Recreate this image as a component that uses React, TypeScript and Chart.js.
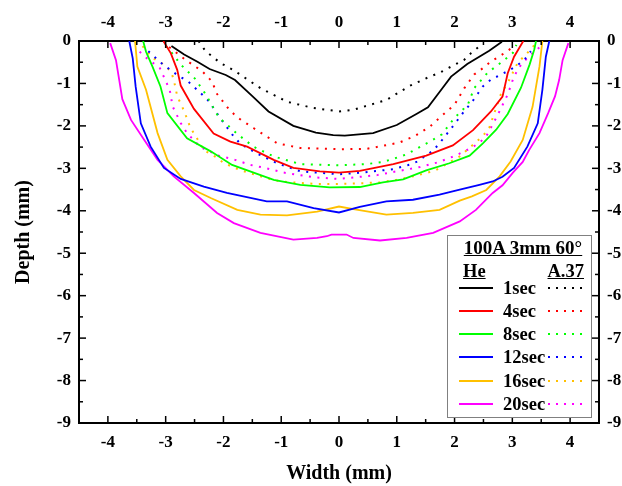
import { useEffect, useRef } from 'react';
import { Chart, registerables } from 'chart.js';

Chart.register(...registerables);

// ── Data: [width (mm), depth (mm)] ──────────────────────────────────
const he1sec = [[-2.9, -0.12], [-2.68, -0.32], [-2.45, -0.49], [-2.24, -0.66], [-1.96, -0.8], [-1.8, -0.92], [-1.5, -1.3], [-1.22, -1.66], [-0.79, -2.0], [-0.4, -2.16], [-0.1, -2.22], [0.1, -2.23], [0.59, -2.17], [1.0, -1.98], [1.34, -1.72], [1.54, -1.56], [1.74, -1.2], [1.94, -0.84], [2.22, -0.54], [2.6, -0.23], [2.82, -0.02]];
const a37_1sec = [[-2.43, 0], [-2.31, -0.24], [-2.05, -0.52], [-1.82, -0.69], [-1.36, -1.11], [-0.9, -1.43], [-0.44, -1.58], [0, -1.66], [0.25, -1.62], [0.82, -1.39], [1.22, -1.06], [1.57, -0.84], [1.74, -0.75], [2.0, -0.56], [2.17, -0.44], [2.29, -0.28], [2.49, -0.06]];

const he4sec = [[-3.04, 0], [-2.91, -0.29], [-2.8, -0.68], [-2.74, -1.05], [-2.51, -1.6], [-2.17, -2.18], [-1.88, -2.37], [-1.59, -2.49], [-1.13, -2.8], [-0.79, -2.99], [-0.33, -3.07], [0, -3.1], [0.36, -3.06], [0.94, -2.9], [1.51, -2.7], [1.97, -2.46], [2.32, -2.1], [2.63, -1.66], [2.83, -1.31], [2.92, -0.76], [3.03, -0.37], [3.19, 0]];
const a37_4sec = [[-2.94, -0.14], [-2.66, -0.44], [-2.37, -0.71], [-2.2, -0.95], [-2.11, -1.25], [-1.91, -1.6], [-1.76, -1.8], [-1.48, -2.05], [-1.07, -2.41], [-0.67, -2.52], [0, -2.55], [0.48, -2.54], [0.76, -2.47], [1.05, -2.39], [1.31, -2.24], [1.57, -2.02], [1.74, -1.81], [2.0, -1.5], [2.17, -1.11], [2.34, -0.79], [2.49, -0.64], [2.63, -0.48], [2.78, -0.36], [2.92, -0.23], [3.06, -0.1]];

const he8sec = [[-3.39, 0], [-3.34, -0.25], [-3.23, -0.6], [-3.09, -1.07], [-2.97, -1.7], [-2.63, -2.29], [-2.22, -2.6], [-1.85, -2.92], [-1.13, -3.27], [-0.67, -3.39], [-0.16, -3.45], [0.36, -3.44], [0.76, -3.33], [1.11, -3.26], [1.51, -3.05], [1.91, -2.88], [2.26, -2.7], [2.49, -2.41], [2.72, -2.09], [2.92, -1.72], [3.15, -1.1], [3.3, -0.55], [3.38, -0.2], [3.41, 0]];
const a37_8sec = [[-3.0, -0.12], [-2.86, -0.33], [-2.75, -0.54], [-2.49, -0.89], [-2.31, -1.25], [-2.08, -1.8], [-1.76, -2.19], [-1.48, -2.49], [-1.13, -2.72], [-0.67, -2.9], [0, -2.93], [0.48, -2.9], [0.76, -2.85], [1.02, -2.74], [1.17, -2.67], [1.45, -2.46], [1.6, -2.35], [1.78, -2.2], [2.0, -1.81], [2.23, -1.5], [2.34, -1.11], [2.57, -0.75], [2.83, -0.48], [3.01, -0.28], [3.07, -0.09]];

const he12sec = [[-3.63, 0], [-3.57, -0.41], [-3.52, -1.07], [-3.43, -1.94], [-3.26, -2.49], [-3.03, -2.99], [-2.74, -3.25], [-2.34, -3.43], [-1.94, -3.58], [-1.25, -3.78], [-0.9, -3.78], [-0.44, -3.94], [0, -4.04], [0.36, -3.91], [0.82, -3.78], [1.28, -3.74], [1.74, -3.62], [2.09, -3.5], [2.43, -3.39], [2.66, -3.31], [2.83, -3.2], [3.03, -2.99], [3.26, -2.49], [3.44, -1.94], [3.52, -1.15], [3.58, -0.37], [3.64, 0]];
const a37_12sec = [[-3.3, -0.24], [-3.05, -0.55], [-2.77, -0.83], [-2.63, -0.93], [-2.37, -1.26], [-2.25, -1.42], [-2.06, -1.81], [-1.85, -2.2], [-1.71, -2.42], [-1.42, -2.65], [-1.07, -2.88], [-0.67, -3.07], [0, -3.14], [0.39, -3.1], [0.94, -3.02], [1.2, -2.92], [1.34, -2.85], [1.48, -2.72], [1.63, -2.58], [1.74, -2.41], [1.97, -2.01], [2.17, -1.65], [2.29, -1.46], [2.49, -1.07], [2.63, -0.91], [2.92, -0.71], [3.06, -0.6], [3.21, -0.44], [3.32, -0.24]];

const he16sec = [[-3.53, 0], [-3.49, -0.6], [-3.34, -1.15], [-3.14, -2.17], [-2.97, -2.8], [-2.74, -3.19], [-2.51, -3.51], [-2.22, -3.7], [-1.76, -3.98], [-1.36, -4.09], [-0.9, -4.11], [-0.38, -4.02], [0, -3.9], [0.25, -3.96], [0.82, -4.09], [1.28, -4.05], [1.74, -3.98], [2.09, -3.76], [2.3, -3.66], [2.55, -3.51], [2.78, -3.19], [2.97, -2.84], [3.18, -2.33], [3.35, -1.55], [3.47, -0.6], [3.52, 0]];
const a37_16sec = [[-3.4, -0.12], [-3.23, -0.4], [-3.07, -0.52], [-2.91, -0.71], [-2.86, -0.91], [-2.8, -1.3], [-2.68, -1.65], [-2.57, -2.05], [-2.48, -2.24], [-2.34, -2.57], [-2.11, -2.75], [-1.99, -2.88], [-1.71, -3.04], [-1.36, -3.19], [-1.02, -3.31], [-0.38, -3.37], [0, -3.37], [0.42, -3.35], [0.71, -3.33], [1.0, -3.27], [1.28, -3.19], [1.54, -3.1], [1.68, -3.04], [2.09, -2.72], [2.49, -2.24], [2.6, -2.05], [2.8, -1.26], [2.95, -0.91], [3.09, -0.52], [3.29, -0.24], [3.41, -0.05]];

const he20sec = [[-3.96, -0.05], [-3.86, -0.45], [-3.8, -0.95], [-3.75, -1.37], [-3.6, -1.86], [-3.37, -2.33], [-3.14, -2.8], [-2.86, -3.19], [-2.51, -3.58], [-2.11, -4.05], [-1.82, -4.29], [-1.36, -4.52], [-0.79, -4.68], [-0.38, -4.64], [-0.21, -4.6], [-0.13, -4.56], [0.13, -4.56], [0.25, -4.64], [0.71, -4.7], [1.17, -4.64], [1.63, -4.52], [2.09, -4.25], [2.37, -3.98], [2.66, -3.58], [2.83, -3.4], [3.01, -3.1], [3.18, -2.85], [3.29, -2.57], [3.47, -2.17], [3.62, -1.7], [3.74, -1.3], [3.81, -0.92], [3.87, -0.45], [3.97, -0.05]];
const a37_20sec = [[-3.45, -0.25], [-3.37, -0.36], [-3.1, -0.64], [-2.93, -1.15], [-2.88, -1.54], [-2.74, -1.93], [-2.63, -2.17], [-2.4, -2.5], [-2.08, -2.7], [-1.8, -2.8], [-1.53, -2.92], [-1.25, -3.0], [-0.96, -3.1], [-0.44, -3.21], [0, -3.25], [0.66, -3.16], [1.0, -3.07], [1.4, -2.97], [1.71, -2.86], [2.0, -2.71], [2.26, -2.54], [2.43, -2.4], [2.55, -2.24], [2.69, -1.89], [2.78, -1.65], [2.92, -1.26], [3.03, -0.83], [3.15, -0.56], [3.29, -0.36], [3.52, -0.09]];

const times = ['1sec', '4sec', '8sec', '12sec', '16sec', '20sec'];
const colors = ['#000000', '#ff0000', '#00ff00', '#0000ff', '#ffc000', '#ff00ff'];
const heSeries = [he1sec, he4sec, he8sec, he12sec, he16sec, he20sec];
const a37Series = [a37_1sec, a37_4sec, a37_8sec, a37_12sec, a37_16sec, a37_20sec];

const xTicks = [-4, -3, -2, -1, 0, 1, 2, 3, 4];
const xMinor = [-3.5, -2.5, -1.5, -0.5, 0.5, 1.5, 2.5, 3.5];
const yTicks = [0, -1, -2, -3, -4, -5, -6, -7, -8, -9];
const yMinor = [-0.5, -1.5, -2.5, -3.5, -4.5, -5.5, -6.5, -7.5, -8.5];

const FAMILY = '"Liberation Serif", "Times New Roman", serif';
const DOT = [2, 6.5];

// Origin-style tick marks pointing into the plot
const inwardTicks = {
  id: 'inwardTicks',
  afterDraw(chart: any) {
    const { ctx, chartArea: { left, right, top, bottom }, scales } = chart;
    ctx.save();
    ctx.strokeStyle = '#000';
    ctx.lineWidth = 1.5;
    const seg = (x1: number, y1: number, x2: number, y2: number) => {
      ctx.beginPath(); ctx.moveTo(x1, y1); ctx.lineTo(x2, y2); ctx.stroke();
    };
    [...xTicks.map(v => [v, 7]), ...xMinor.map(v => [v, 4])].forEach(([v, len]) => {
      const px = scales.x.getPixelForValue(v);
      seg(px, bottom, px, bottom - len);
      seg(px, top, px, top + len);
    });
    [...yTicks.map(v => [v, 7]), ...yMinor.map(v => [v, 4])].forEach(([v, len]) => {
      const py = scales.y.getPixelForValue(v);
      seg(left, py, left + len, py);
      seg(right, py, right - len, py);
    });
    ctx.restore();
  },
};

export default function App() {
  const canvasRef = useRef<HTMLCanvasElement>(null);

  useEffect(() => {
    if (!canvasRef.current) return;

    const datasets: any[] = [];
    times.forEach((t, i) => {
      datasets.push({
        label: `He ${t}`,
        data: heSeries[i].map(([x, y]) => ({ x, y })),
        borderColor: colors[i],
        borderWidth: 1.8,
        pointRadius: 0,
        tension: 0,
      });
      datasets.push({
        label: `A.37 ${t}`,
        data: a37Series[i].map(([x, y]) => ({ x, y })),
        borderColor: colors[i],
        borderWidth: 2,
        borderDash: DOT,
        pointRadius: 0,
        tension: 0,
      });
    });

    const tickFont = { family: FAMILY, size: 17, weight: 'bold' as const };
    const titleFont = { family: FAMILY, size: 20, weight: 'bold' as const };
    const common = (ticks: number[]) => ({
      type: 'linear' as const,
      grid: { display: false, drawTicks: false },
      border: { display: true, color: '#000', width: 2 },
      afterBuildTicks: (s: any) => { s.ticks = ticks.map(value => ({ value })); },
    });

    const chart = new Chart(canvasRef.current, {
      type: 'line',
      data: { datasets },
      options: {
        animation: false,
        responsive: true,
        maintainAspectRatio: false,
        layout: { padding: 0 },
        plugins: { legend: { display: false }, tooltip: { enabled: false } },
        scales: {
          x: {
            ...common(xTicks), position: 'bottom', min: -4.5, max: 4.5,
            afterFit: (s: any) => { s.height = 63; },
            ticks: { font: tickFont, color: '#000', padding: 9, callback: (v: any) => String(v) },
            title: { display: true, text: 'Width (mm)', font: titleFont, color: '#000', padding: { top: 8, bottom: 0 } },
          },
          x2: {
            ...common(xTicks), position: 'top', min: -4.5, max: 4.5,
            afterFit: (s: any) => { s.height = 41; },
            ticks: { font: tickFont, color: '#000', padding: 8, callback: (v: any) => String(v) },
          },
          y: {
            ...common(yTicks), position: 'left', min: -9, max: 0,
            afterFit: (s: any) => { s.width = 79; },
            ticks: { font: tickFont, color: '#000', padding: 8, callback: (v: any) => String(v) },
            title: { display: true, text: 'Depth (mm)', font: titleFont, color: '#000', padding: { top: 12, bottom: 0 } },
          },
          y2: {
            ...common(yTicks), position: 'right', min: -9, max: 0,
            afterFit: (s: any) => { s.width = 23; },
            ticks: { font: tickFont, color: '#000', padding: 8, callback: (v: any) => String(v) },
          },
        },
      } as any,
      plugins: [inwardTicks],
    });

    return () => { chart.destroy(); };
  }, []);

  const txt = (extra: any) => ({
    position: 'absolute' as const,
    fontFamily: FAMILY,
    fontWeight: 'bold' as const,
    fontSize: 18.5,
    lineHeight: '20px',
    color: '#000',
    whiteSpace: 'nowrap' as const,
    ...extra,
  });

  return (
    <div style={{ position: 'fixed', left: 0, top: 0, width: 622, height: 486, background: '#fff' }}>
      <canvas ref={canvasRef} />

      {/* Legend */}
      <div style={{ position: 'absolute', left: 447, top: 235, width: 145, height: 183, boxSizing: 'border-box', border: '1.5px solid #808080', background: '#fff' }} />
      <div style={txt({ left: 447, width: 152, top: 238, textAlign: 'center', textDecoration: 'underline', fontSize: 19 })}>100A 3mm 60°</div>
      <div style={txt({ left: 463, top: 261, textDecoration: 'underline' })}>He</div>
      <div style={txt({ right: 622 - 584, top: 261, textDecoration: 'underline' })}>A.37</div>
      {times.map((t, i) => {
        const cy = 287.5 + i * 23.3;
        return (
          <div key={t}>
            <div style={{ position: 'absolute', left: 459, top: cy - 1, width: 34, height: 2, background: colors[i] }} />
            <div style={txt({ left: 503, top: cy - 10 })}>{t}</div>
            <div style={{ position: 'absolute', left: 548, top: cy - 1, width: 38, height: 2, backgroundImage: `repeating-linear-gradient(to right, ${colors[i]} 0 2px, transparent 2px 8px)` }} />
          </div>
        );
      })}
    </div>
  );
}
